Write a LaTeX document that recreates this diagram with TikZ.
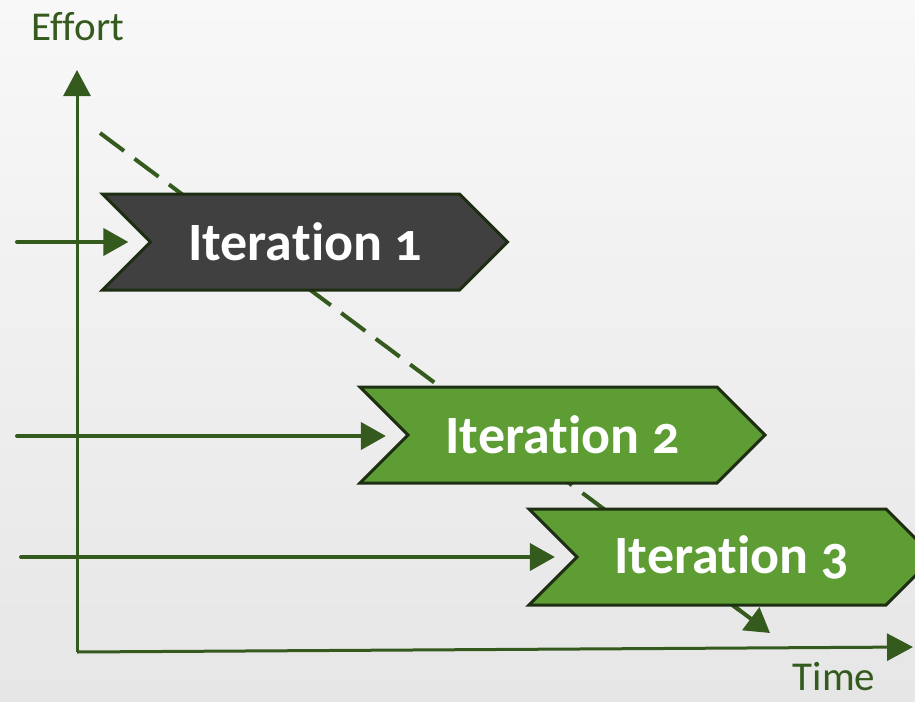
\documentclass[tikz,border=0pt]{standalone}
\usepackage{fontspec}
\setmainfont{Carlito}[Numbers=OldStyle,RawFeature={-liga;-clig;-calt;-dlig}]
\usetikzlibrary{arrows.meta,shapes.symbols,calc}
\definecolor{axgreen}{HTML}{355A1D}
\definecolor{chgreen}{HTML}{5E9C34}
\definecolor{chdark}{HTML}{404040}
\definecolor{chborder}{HTML}{1E2E12}
\definecolor{bgtop}{HTML}{F8F8F8}
\definecolor{bgbot}{HTML}{E6E6E6}
\newcommand{\nolig}{\kern0pt{}}
\begin{document}
\begin{tikzpicture}[x=1pt,y=-1pt,
  axis/.style={draw=axgreen,line width=3pt,-{Triangle[length=26pt,width=27pt]}},
  feed/.style={draw=axgreen,line width=4pt,line cap=round,-{Triangle[length=25pt,width=27pt]}},
  trend/.style={draw=axgreen,line width=4pt,dash pattern=on 30pt off 13pt},
  trendtip/.style={draw=axgreen,line width=4pt,-{Triangle[length=24pt,width=28pt]}},
  chevron/.style={shape=signal,signal from=west,signal to=east,signal pointer angle=90,
    minimum width=405pt,minimum height=96pt,inner sep=0pt,draw=chborder,line width=3pt,
    text=white,font=\fontsize{54}{60}\selectfont\bfseries},
  lbl/.style={text=axgreen,font=\fontsize{41}{48}\selectfont,inner sep=0pt}]
\useasboundingbox (0,0) rectangle (915,701);
\shade[top color=bgtop,bottom color=bgbot] (0,0) rectangle (915,701);
\begin{scope}
\clip (0,0) rectangle (915,701);
% axes
\coordinate (origin) at (77,652);
\coordinate (ytip) at (77,70);
\coordinate (xtip) at (913,647);
\draw[axis] (origin) -- (ytip);
\draw[axis] (origin) -- (xtip);
\node[lbl] (effort) at (78,27) {Effort};
\node[lbl] (time) at (834,677) {Time};
% trend line
\coordinate (ts) at (100,133);
\coordinate (te) at (770,633);
\draw[trend] (ts) -- ($(ts)!0.955!(te)$);
\draw[trendtip] ($(ts)!0.94!(te)$) -- (te);
% chevrons
\node[chevron,fill=chdark] (c1) at (305,242) {Itera\nolig tion 1};
\node[chevron,fill=chgreen] (c2) at (562.5,435) {Itera\nolig tion 2};
\node[chevron,fill=chgreen] (c3) at (731.5,557) {Itera\nolig tion 3};
% feeds
\coordinate (f1) at (17,242);
\coordinate (f2) at (17,436);
\coordinate (f3) at (21,557);
\draw[feed,shorten >=20pt] (f1) -- (f1 -| c1.west);
\draw[feed,shorten >=20pt] (f2) -- (f2 -| c2.west);
\draw[feed,shorten >=20pt] (f3) -- (f3 -| c3.west);
\end{scope}
\end{tikzpicture}
\end{document}
